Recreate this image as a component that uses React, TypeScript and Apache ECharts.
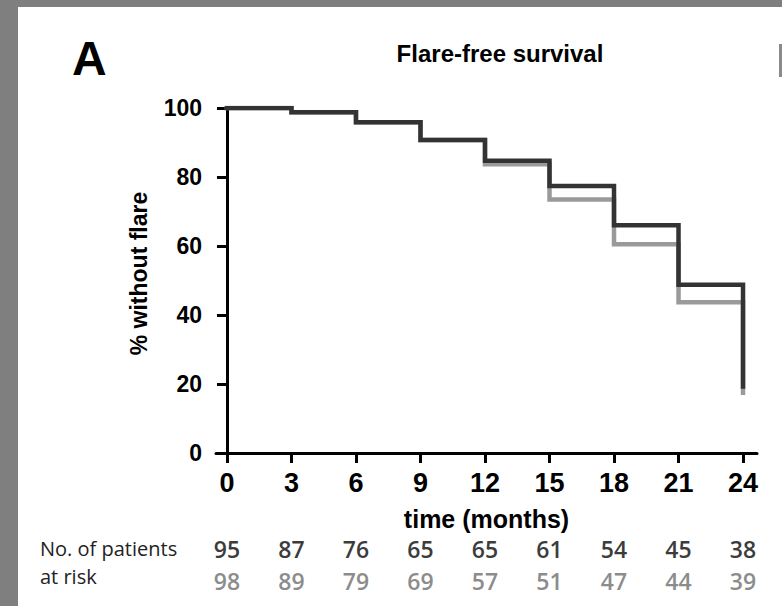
import React, { useEffect, useRef } from "react";
import * as echarts from "echarts";

const months = [0, 3, 6, 9, 12, 15, 18, 21, 24];
const darkTimes = [0, 3, 6, 9, 12, 15, 18, 21, 24];
const darkSurv = [100, 98.8, 95.9, 90.7, 84.7, 77.4, 66.0, 48.8, 19.3];
const lightTimes = [0, 3, 6, 9, 12, 15, 18, 21, 24];
const lightSurv = [100, 98.8, 95.9, 90.7, 83.7, 73.5, 60.5, 43.7, 17.5];
const riskDark = [95, 87, 76, 65, 65, 61, 54, 45, 38];
const riskLight = [98, 89, 79, 69, 57, 51, 47, 44, 39];

const SANS = '"Liberation Sans", Arial, sans-serif';
const TABLE = '"Open Sans", "Noto Sans", sans-serif';

export default function App() {
  const ref = useRef<HTMLDivElement>(null);
  useEffect(() => {
    if (!ref.current) return;
    const chart = echarts.init(ref.current, undefined, { renderer: "svg" });
    const idx = (v: number) => months.indexOf(v);
    const riskAxis = (arr: number[], offset: number, color: string) => ({
      type: "value",
      gridIndex: 0,
      position: "bottom",
      min: -0.51,
      max: 24.65,
      offset,
      axisLine: { show: false },
      axisTick: { show: false },
      splitLine: { show: false },
      axisLabel: {
        customValues: months,
        formatter: (v: number) => (idx(v) >= 0 ? String(arr[idx(v)]) : ""),
        color,
        fontFamily: TABLE,
        fontSize: 23,
        fontWeight: 600,
        margin: 0,
      },
    });
    chart.setOption({
      animation: false,
      backgroundColor: "#ffffff",
      grid: { left: 216, right: 25, top: 108, bottom: 153, containLabel: false },
      xAxis: [
        {
          type: "value",
          min: -0.51,
          max: 24.65,
          name: "time (months)",
          nameLocation: "middle",
          nameGap: 53,
          nameTextStyle: { fontFamily: SANS, fontWeight: "bold", fontSize: 25, color: "#000" },
          axisLine: { show: true, lineStyle: { color: "#000", width: 3 } },
          axisTick: { show: true, customValues: months, length: 10, lineStyle: { color: "#000", width: 3 } },
          axisLabel: {
            customValues: months,
            fontFamily: SANS,
            fontWeight: "bold",
            fontSize: 27,
            color: "#000",
            margin: 16,
          },
          splitLine: { show: false },
        },
        riskAxis(riskDark, 84, "#3c3c3c"),
        riskAxis(riskLight, 116, "#8c8c8c"),
      ],
      yAxis: {
        type: "value",
        min: 0,
        max: 100,
        interval: 20,
        name: "% without flare",
        nameLocation: "middle",
        nameGap: 66,
        nameRotate: 90,
        nameTextStyle: {
          fontFamily: SANS,
          fontWeight: "bold",
          fontSize: 23,
          color: "#000",
          padding: [0, 0, 0, 14],
        },
        axisLine: { show: true, lineStyle: { color: "#000", width: 3 } },
        axisTick: { show: true, length: 10, lineStyle: { color: "#000", width: 3 } },
        axisLabel: {
          fontFamily: SANS,
          fontWeight: "bold",
          fontSize: 23,
          color: "#000",
          margin: 14,
        },
        splitLine: { show: false },
      },
      graphic: [
        { type: "rect", left: 0, top: 0, shape: { width: 18, height: 606 }, style: { fill: "#7f7f7f" } },
        { type: "rect", left: 0, top: 0, shape: { width: 782, height: 7 }, style: { fill: "#7f7f7f" } },
        { type: "rect", left: 779, top: 44, shape: { width: 3, height: 33 }, style: { fill: "#8a8a8a" } },
        {
          type: "text",
          left: 72,
          top: 34,
          style: { text: "A", fontFamily: SANS, fontWeight: "bold", fontSize: 48, fill: "#000" },
        },
        {
          type: "text",
          x: 500,
          y: 53,
          style: {
            text: "Flare-free survival",
            fontFamily: SANS,
            fontWeight: "bold",
            fontSize: 24,
            fill: "#000",
            align: "center",
            verticalAlign: "middle",
          },
        },
        {
          type: "text",
          x: 40,
          y: 548,
          style: {
            text: "No. of patients",
            fontFamily: TABLE,
            fontSize: 20,
            fill: "#222",
            verticalAlign: "middle",
          },
        },
        {
          type: "text",
          x: 40,
          y: 576,
          style: { text: "at risk", fontFamily: TABLE, fontSize: 20, fill: "#222", verticalAlign: "middle" },
        },
      ],
      series: [
        {
          type: "line",
          step: "end",
          symbol: "none",
          data: lightTimes.map((t, i) => [t, lightSurv[i]]),
          lineStyle: { color: "#9a9a9a", width: 4.5, cap: "square", join: "miter" },
          z: 2,
        },
        {
          type: "line",
          step: "end",
          symbol: "none",
          data: darkTimes.map((t, i) => [t, darkSurv[i]]),
          lineStyle: { color: "#333333", width: 4.5, cap: "square", join: "miter" },
          z: 3,
        },
      ],
    });
    return () => chart.dispose();
  }, []);
  return (
    <div
      ref={ref}
      style={{ position: "fixed", left: 0, top: 0, width: 782, height: 606, background: "#fff" }}
    />
  );
}
